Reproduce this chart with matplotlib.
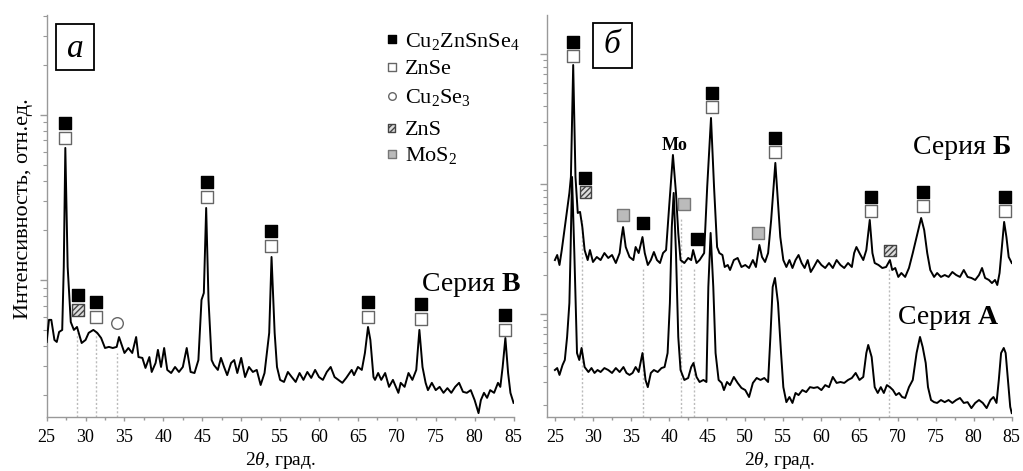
import numpy as np
import matplotlib
matplotlib.use('Agg')
import matplotlib.pyplot as plt
from matplotlib.ticker import MultipleLocator, LogLocator, NullFormatter
from matplotlib.patches import Rectangle
from matplotlib.transforms import offset_copy

plt.rcParams['font.family'] = ['Liberation Serif', 'DejaVu Serif']
plt.rcParams['mathtext.fontset'] = 'custom'
plt.rcParams['mathtext.rm'] = 'Liberation Serif'
plt.rcParams['mathtext.it'] = 'Liberation Serif:italic'
plt.rcParams['mathtext.bf'] = 'Liberation Serif:bold'
plt.rcParams['hatch.color'] = '#444444'
plt.rcParams['hatch.linewidth'] = 1.0

# Series В (panel a)
theta_v = [25.0, 25.3, 25.6, 26.0, 26.3, 26.6, 27.0, 27.2, 27.4, 27.7,
           28.1, 28.5, 28.9, 29.5, 30.0, 30.4, 31.0, 31.5, 32.0, 32.5,
           33.0, 33.5, 34.0, 34.3, 35.0, 35.5, 36.0, 36.5, 36.8, 37.3,
           37.7, 38.2, 38.5, 39.0, 39.3, 39.7, 40.1, 40.5, 41.0, 41.5,
           42.0, 42.5, 43.0, 43.5, 44.0, 44.5, 44.9, 45.2, 45.5, 45.8,
           46.2, 46.5, 47.0, 47.4, 47.8, 48.2, 48.7, 49.1, 49.5, 50.0,
           50.5, 51.0, 51.5, 52.0, 52.5, 53.0, 53.3, 53.6, 53.9, 54.3,
           54.6, 55.0, 55.5, 56.0, 56.5, 57.0, 57.5, 58.0, 58.5, 59.0,
           59.5, 60.0, 60.5, 61.0, 61.5, 62.0, 62.5, 63.0, 63.5, 64.2,
           64.5, 65.0, 65.5, 65.9, 66.3, 66.6, 67.0, 67.2, 67.6, 68.0,
           68.5, 69.0, 69.5, 70.2, 70.5, 71.0, 71.5, 72.0, 72.5, 72.9,
           73.3, 73.7, 74.0, 74.5, 75.0, 75.5, 76.0, 76.5, 77.0, 77.5,
           78.0, 78.5, 79.0, 79.5, 80.0, 80.5, 80.8, 81.2, 81.6, 82.0,
           82.5, 83.0, 83.3, 83.6, 83.95, 84.3, 84.6, 85.0]
int_v = [421, 573, 573, 433, 421, 484, 498, 1199, 6310, 1199,
         556, 498, 519, 415, 433, 478, 498, 478, 445, 387,
         393, 387, 393, 451, 361, 387, 361, 451, 341, 337,
         293, 341, 277, 314, 377, 297, 387, 285, 273, 297,
         277, 297, 387, 277, 273, 327, 757, 834, 2731, 757,
         327, 305, 285, 337, 297, 265, 314, 327, 273, 337,
         258, 297, 277, 285, 231, 273, 361, 478, 1378, 478,
         297, 248, 241, 277, 258, 241, 273, 248, 277, 255,
         285, 258, 248, 277, 297, 258, 248, 238, 255, 285,
         265, 297, 285, 361, 519, 433, 258, 248, 273, 248,
         273, 225, 248, 207, 238, 225, 273, 248, 285, 498,
         297, 238, 215, 238, 215, 225, 207, 221, 207, 225,
         238, 210, 207, 215, 187, 156, 187, 207, 193, 215,
         207, 238, 225, 297, 445, 273, 207, 180]

# Series Б (panel б, upper curve)
theta_b = [25.0, 25.3, 25.6, 25.9, 26.3, 26.6, 26.9, 27.1, 27.4, 27.7,
           28.0, 28.3, 28.6, 28.9, 29.3, 29.6, 30.0, 30.5, 31.0, 31.5,
           32.0, 32.5, 33.0, 33.5, 33.7, 33.95, 34.3, 34.8, 35.3, 35.6,
           36.0, 36.5, 36.8, 37.2, 37.6, 38.0, 38.4, 38.8, 39.2, 39.6,
           40.0, 40.5, 40.9, 41.2, 41.5, 42.0, 42.5, 42.9, 43.15, 43.6,
           44.0, 44.6, 45.0, 45.5, 45.9, 46.3, 46.6, 47.0, 47.3, 47.7,
           48.0, 48.5, 49.0, 49.5, 50.0, 50.5, 51.0, 51.4, 51.85, 52.2,
           52.6, 53.0, 53.4, 53.95, 54.3, 54.6, 55.0, 55.4, 55.8, 56.2,
           56.6, 57.0, 57.4, 57.8, 58.2, 58.6, 59.0, 59.5, 60.0, 60.5,
           61.0, 61.5, 62.0, 62.5, 63.0, 63.5, 64.0, 64.3, 64.6, 65.0,
           65.5, 65.9, 66.35, 66.7, 67.0, 67.5, 68.0, 68.5, 69.0, 69.3,
           69.7, 70.1, 70.5, 71.0, 71.5, 72.0, 72.5, 73.1, 73.5, 73.9,
           74.3, 74.8, 75.2, 75.7, 76.2, 76.7, 77.2, 77.7, 78.2, 78.7,
           79.2, 79.7, 80.2, 80.7, 81.1, 81.5, 82.0, 82.4, 82.8, 83.1,
           83.4, 83.7, 84.0, 84.3, 84.6, 85.0]
int_b = [2600, 2843, 2382, 3105, 4664, 6310, 8536, 11320, 82200, 11320,
         5984, 6100, 4664, 3105, 2600, 3105, 2512, 2744, 2600, 2943,
         2697, 2843, 2467, 2943, 3707, 4664, 3275, 2744, 2600, 3275,
         2943, 3908, 2943, 2382, 2600, 2998, 2600, 2467, 2943, 3105,
         6653, 16710, 8536, 4200, 2600, 2467, 2697, 2600, 3105, 2467,
         2600, 2943, 9484, 32180, 9484, 3275, 2943, 2843, 2299, 2382,
         2180, 2600, 2697, 2299, 2382, 2258, 2600, 2299, 3396, 2744,
         2512, 2943, 5285, 14520, 7143, 3908, 2600, 2299, 2600, 2258,
         2600, 2843, 2467, 2258, 2600, 2104, 2299, 2600, 2382, 2258,
         2467, 2258, 2600, 2382, 2258, 2467, 2299, 2943, 3275, 2943,
         2600, 3105, 5285, 2943, 2467, 2382, 2258, 2299, 2600, 2180,
         2258, 1928, 2067, 1928, 2258, 2943, 3908, 5475, 4426, 2943,
         2180, 1928, 2067, 1928, 1995, 1928, 2104, 1995, 1928, 2180,
         1928, 1893, 1827, 1995, 2258, 1893, 1827, 1729, 1827, 1671,
         2067, 3275, 5105, 3908, 2744, 2467]

# Series А (panel б, lower curve)
theta_a = [25.0, 25.3, 25.6, 26.0, 26.3, 26.6, 26.9, 27.05, 27.25, 27.55,
           27.9, 28.2, 28.5, 28.9, 29.4, 29.8, 30.2, 30.6, 31.0, 31.5,
           32.0, 32.5, 33.0, 33.5, 34.0, 34.4, 34.8, 35.2, 35.6, 36.0,
           36.5, 36.9, 37.2, 37.6, 38.0, 38.5, 39.0, 39.4, 39.8, 40.1,
           40.35, 40.6, 40.9, 41.2, 41.5, 42.0, 42.5, 42.9, 43.2, 43.6,
           44.0, 44.5, 44.9, 45.15, 45.45, 45.8, 46.1, 46.5, 46.9, 47.2,
           47.6, 48.0, 48.5, 49.0, 49.5, 50.0, 50.5, 51.0, 51.5, 52.0,
           52.5, 53.0, 53.3, 53.6, 53.9, 54.3, 54.7, 55.0, 55.4, 55.8,
           56.2, 56.6, 57.0, 57.5, 58.0, 58.5, 59.0, 59.5, 60.0, 60.5,
           61.0, 61.5, 62.0, 62.5, 63.0, 63.5, 64.0, 64.5, 65.0, 65.5,
           65.9, 66.15, 66.6, 67.0, 67.4, 67.8, 68.2, 68.6, 69.0, 69.4,
           69.8, 70.2, 70.6, 71.0, 71.5, 72.0, 72.5, 72.95, 73.3, 73.7,
           74.0, 74.4, 74.8, 75.2, 75.7, 76.2, 76.7, 77.2, 77.7, 78.2,
           78.7, 79.2, 79.7, 80.2, 80.7, 81.2, 81.7, 82.2, 82.6, 83.0,
           83.3, 83.6, 83.95, 84.2, 84.5, 84.8, 85.0]
int_a = [371, 384, 340, 405, 443, 666, 1215, 2943, 11320, 2943,
         501, 443, 548, 391, 358, 384, 352, 371, 358, 384,
         371, 352, 384, 358, 391, 352, 340, 352, 391, 358,
         501, 311, 274, 352, 371, 358, 384, 391, 501, 1215,
         4664, 8536, 2943, 666, 371, 311, 322, 391, 420, 328,
         300, 311, 300, 1614, 4200, 1614, 501, 311, 295, 260,
         300, 284, 328, 295, 270, 260, 230, 295, 322, 311,
         322, 300, 666, 1614, 1893, 1215, 501, 274, 210, 230,
         207, 247, 238, 260, 251, 274, 270, 274, 260, 284,
         274, 328, 295, 300, 295, 311, 322, 352, 311, 328,
         501, 578, 467, 274, 247, 274, 247, 284, 274, 260,
         238, 247, 230, 226, 274, 311, 501, 666, 558, 420,
         274, 218, 210, 207, 218, 210, 218, 207, 218, 226,
         207, 210, 189, 207, 218, 207, 189, 218, 230, 207,
         311, 501, 548, 501, 311, 193, 173]

# phase markers: (2theta, intensity of top marker, phases from top to bottom)
marks_a = [(27.35, 8954, ['cz', 'zs']), (29.05, 811, ['cz', 'zns']),
           (31.35, 736, ['cz', 'zs']), (34.1, 549, ['cs']),
           (45.6, 3926, ['cz', 'zs']), (53.85, 1982, ['cz', 'zs']),
           (66.25, 736, ['cz', 'zs']), (73.05, 716, ['cz', 'zs']),
           (83.9, 614, ['cz', 'zs'])]
marks_b = [(27.4, 123000, ['cz', 'zs']), (29.0, 11070, ['cz', 'zns']),
           (33.9, 5776, ['mos']), (36.6, 4990, ['cz']),
           (42.0, 7020, ['mos']), (43.7, 3757, ['cz']),
           (45.6, 49900, ['cz', 'zs']), (51.7, 4180, ['mos']),
           (53.9, 22700, ['cz', 'zs']), (66.5, 7980, ['cz', 'zs']),
           (69.0, 3070, ['zns']), (73.4, 8730, ['cz', 'zs']),
           (84.1, 7900, ['cz', 'zs'])]

# dotted guide lines: (2theta, top intensity)
guides_a = [(28.86, 478), (31.35, 498), (34.1, 361)]
guides_b = [(28.6, 5285), (36.6, 2311), (41.5, 5600), (43.3, 2311), (68.9, 2311)]

phase_style = {
    'cz': dict(marker='s', facecolor='black', edgecolor='black'),
    'zs': dict(marker='s', facecolor='white', edgecolor='#666666'),
    'cs': dict(marker='o', facecolor='white', edgecolor='#666666'),
    'zns': dict(marker='s', facecolor='#dddddd', edgecolor='#444444', hatch='//////'),
    'mos': dict(marker='s', facecolor='#bbbbbb', edgecolor='#777777'),
}
legend_keys = ['cz', 'zs', 'cs', 'zns', 'mos']
legend_labels = ['Cu$_2$ZnSnSe$_4$', 'ZnSe', 'Cu$_2$Se$_3$', 'ZnS', 'MoS$_2$']

GRAY = '#999999'

fig = plt.figure(figsize=(10.23, 4.71), dpi=100)
ax1 = fig.add_axes([0.0456, 0.1153, 0.4564, 0.853])
ax2 = fig.add_axes([0.535, 0.1153, 0.454, 0.853])
ax1.patch.set_visible(False)
ax2.patch.set_visible(False)


def style_axis(ax, xlim, ylim):
    ax.set_yscale('log')
    ax.set_xlim(*xlim)
    ax.set_ylim(*ylim)
    for s in ['top', 'right']:
        ax.spines[s].set_visible(False)
    for s in ['left', 'bottom']:
        ax.spines[s].set_color(GRAY)
        ax.spines[s].set_linewidth(1.0)
    ax.xaxis.set_major_locator(MultipleLocator(5))
    ax.xaxis.set_minor_locator(MultipleLocator(2.5))
    ax.yaxis.set_major_locator(LogLocator(base=10))
    ax.yaxis.set_minor_locator(LogLocator(base=10, subs=np.arange(2, 10)))
    ax.yaxis.set_major_formatter(NullFormatter())
    ax.yaxis.set_minor_formatter(NullFormatter())
    ax.tick_params(axis='x', which='major', length=3, width=1, color=GRAY,
                   labelsize=13, pad=6)
    ax.tick_params(axis='x', which='minor', length=1.8, width=1, color=GRAY)
    ax.tick_params(axis='y', which='major', length=5, width=1, color=GRAY)
    ax.tick_params(axis='y', which='minor', length=3, width=0.8, color=GRAY)
    ax.set_xlabel('2$\\theta$, град.', fontsize=14, labelpad=3)


def put_marks(ax, marks, step):
    for th, inten, phases in marks:
        for i, ph in enumerate(phases):
            tr = offset_copy(ax.transData, fig=fig, x=0, y=-i * step, units='dots')
            ax.scatter([th], [inten], s=70, linewidths=1.0, transform=tr,
                       zorder=4, clip_on=False, **phase_style[ph])


def put_guides(ax, guides):
    bottom = ax.get_ylim()[0]
    for th, top in guides:
        ax.vlines(th, bottom, top, colors='#bbbbbb', linestyles=(0, (1.5, 1.5)),
                  linewidth=1.0, zorder=1)


style_axis(ax1, (25, 85), (148.4, 40360))
style_axis(ax2, (24.0, 85), (162.3, 199500))

put_guides(ax1, guides_a)
put_guides(ax2, guides_b)

ax1.plot(theta_v, int_v, color='black', lw=1.4, zorder=3)
ax2.plot(theta_b, int_b, color='black', lw=1.4, zorder=3)
ax2.plot(theta_a, int_a, color='black', lw=1.4, zorder=3)

put_marks(ax1, marks_a, 15)
put_marks(ax2, marks_b, 14)

ax2.text(40.75, 18270, 'Mo', fontsize=13, fontweight='bold', ha='center',
         va='baseline')


# series labels: regular word followed by a bold letter
def series_label(ax, x, y, letter):
    t = fig.text(x, y, 'Серия ', fontsize=20, ha='left', va='baseline')
    ax.annotate(letter, xy=(1, 0), xycoords=t, fontsize=20, fontweight='bold',
                ha='left', va='bottom', annotation_clip=False, zorder=6)


series_label(ax1, 0.4122, 0.3828, 'В')
series_label(ax2, 0.8925, 0.673, 'Б')
series_label(ax2, 0.8778, 0.312, 'А')

# panel letters in boxes
fig.add_artist(Rectangle((0.0547, 0.8514), 0.0374, 0.0977, transform=fig.transFigure,
                         fill=False, edgecolor='black', linewidth=1.3))
fig.text(0.0735, 0.8796, 'a', fontsize=24, style='italic', ha='center', va='baseline')
fig.add_artist(Rectangle((0.5794, 0.855), 0.0381, 0.0968, transform=fig.transFigure,
                         fill=False, edgecolor='black', linewidth=1.3))
fig.text(0.5984, 0.8868, 'б', fontsize=24, style='italic', ha='center', va='baseline')

# legend
leg_rows = [39.3, 66.7, 95.7, 127.7, 154.0]
for key, lab, py in zip(legend_keys, legend_labels, leg_rows):
    ax1.scatter([0.3827], [1 - py / 471], s=30, linewidths=1.0,
                transform=fig.transFigure, clip_on=False, zorder=5,
                **phase_style[key])
    fig.text(0.3959, 1 - (py + 7.5) / 471, lab, fontsize=16, ha='left',
             va='baseline')

fig.text(0.0225, 0.556, 'Интенсивность, отн.ед.', fontsize=16, rotation=90,
         ha='center', va='center')

fig.savefig('out.png', dpi=100)
